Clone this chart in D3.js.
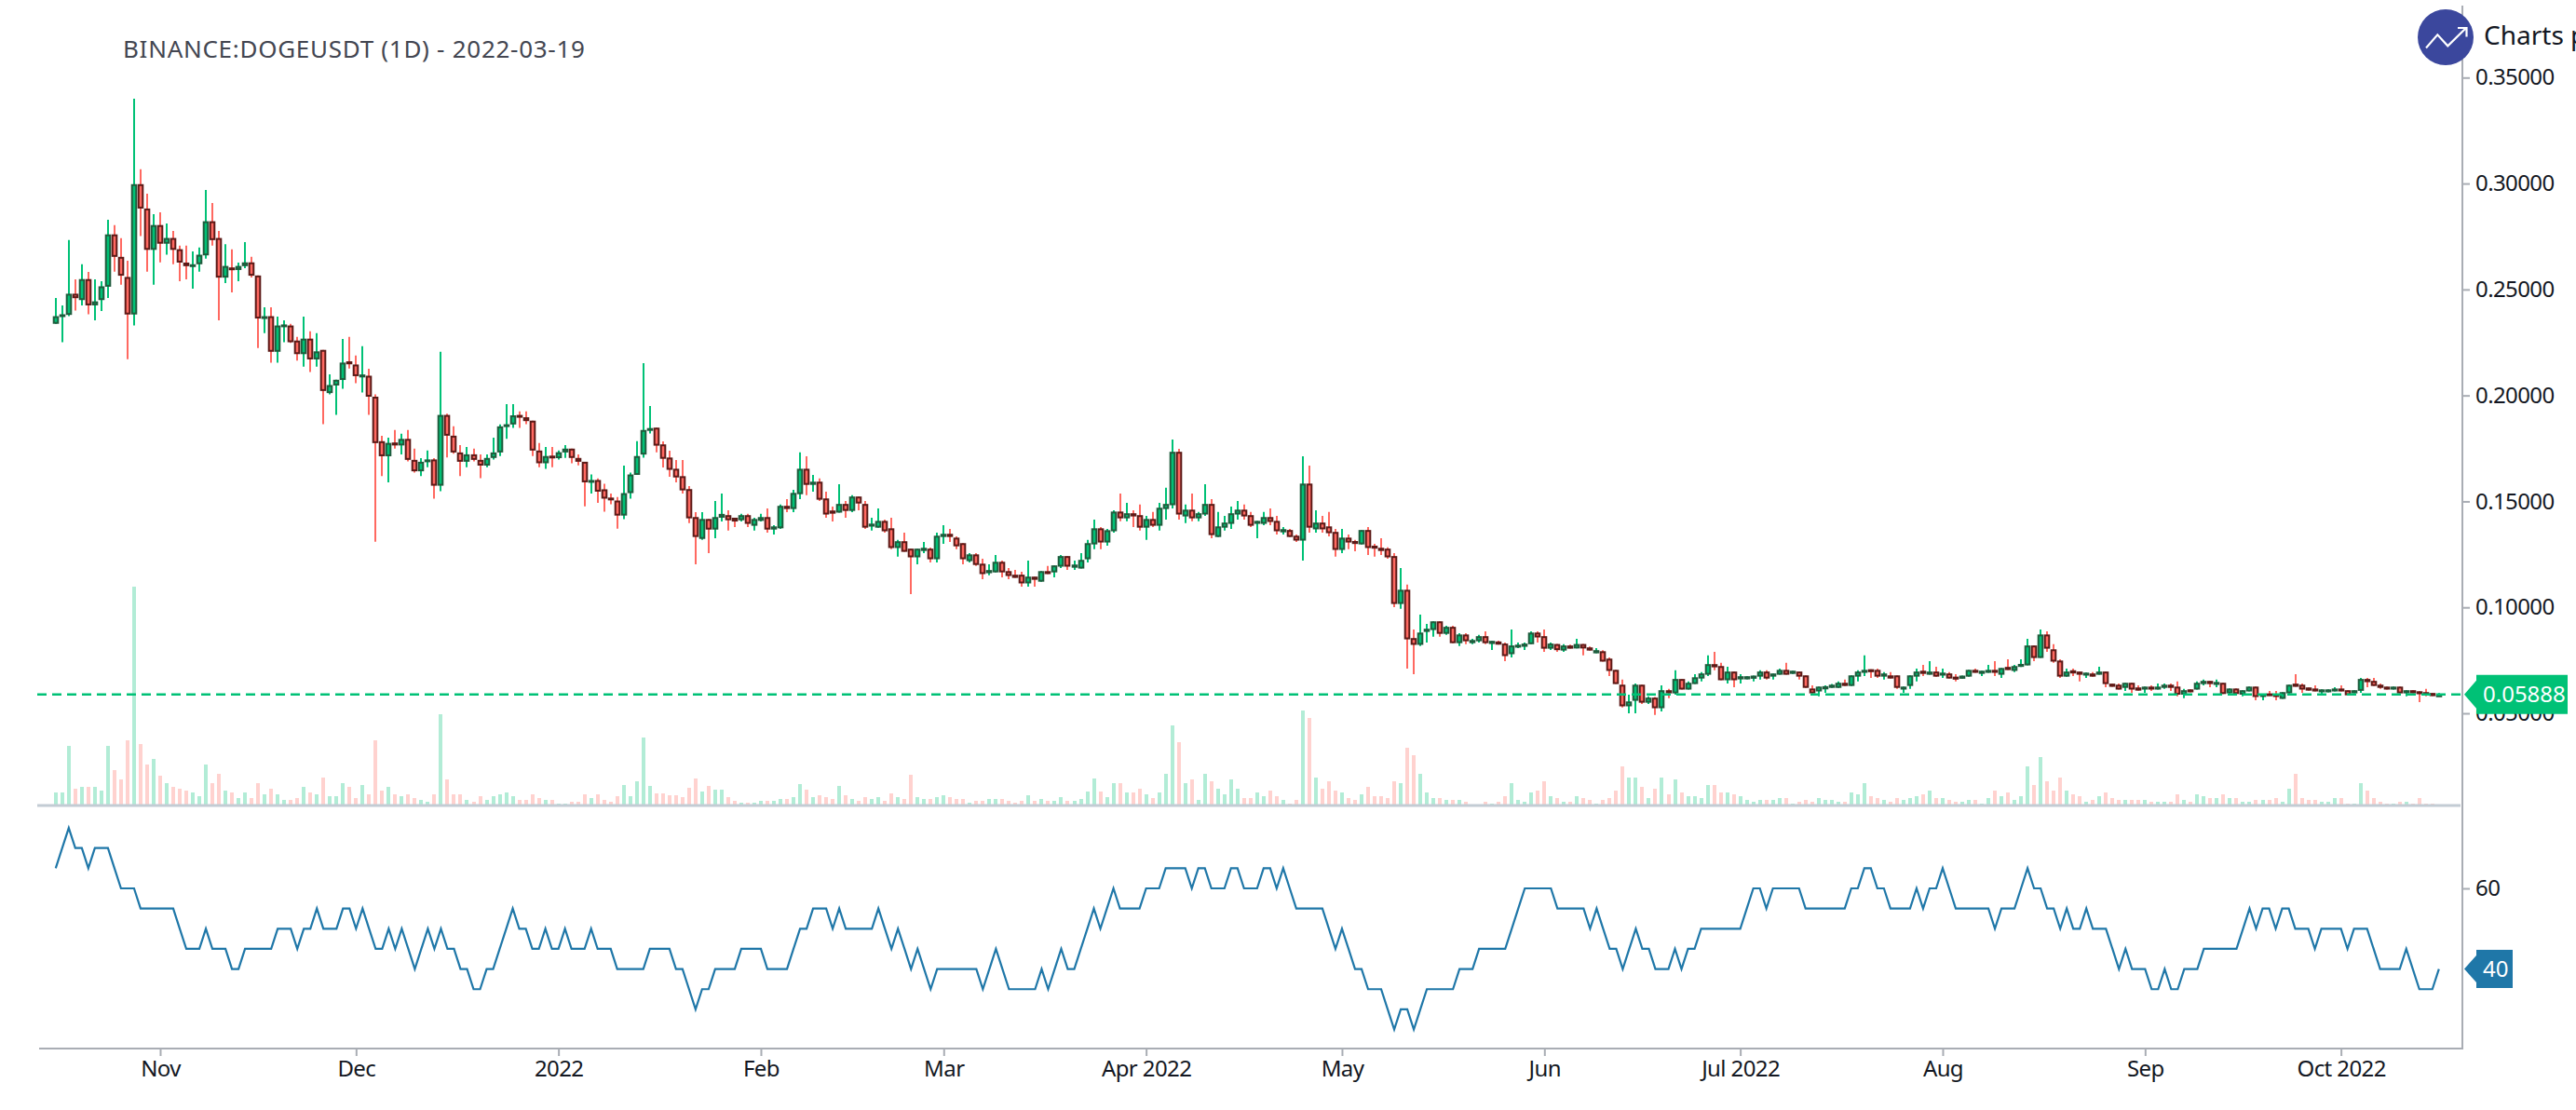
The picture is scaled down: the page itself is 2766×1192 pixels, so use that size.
<!DOCTYPE html>
<html><head><meta charset="utf-8">
<script src="https://cdn.jsdelivr.net/npm/d3@7"></script>
<style>
html,body{margin:0;padding:0;background:#fff;overflow:hidden}
svg{display:block}
text{font-family:"Noto Sans",sans-serif}
</style></head><body>
<svg id="c" width="2766" height="1192"></svg>
<script>
const TITLE="BINANCE:DOGEUSDT (1D) - 2022-03-19";
const BRAND="Charts pro";
const PRICE_UNIT=1e-4; // OHLC below are in 0.0001 USDT
const firstDay=new Date(2021,9,16);
const opens=[
2338,2371,2380,2480,2450,2549,2425,2450,2513,2760,
2654,2559,2382,2997,2882,2687,2804,2716,2743,2690,
2627,2610,2619,2661,2822,2743,2556,2604,2592,2610,
2628,2566,2362,2374,2206,2323,2330,2259,2195,2268,
2170,2215,2011,2047,2073,2161,2146,2085,2093,1994,
1784,1713,1778,1764,1795,1696,1642,1686,1698,1574,
1908,1810,1731,1687,1722,1696,1669,1705,1731,1852,
1863,1908,1897,1881,1740,1680,1716,1704,1731,1749,
1705,1687,1589,1601,1557,1518,1504,1433,1539,1625,
1721,1835,1848,1769,1707,1654,1619,1558,1426,1323,
1417,1367,1423,1435,1423,1411,1435,1385,1408,1426,
1367,1373,1479,1464,1534,1654,1578,1593,1514,1457,
1447,1488,1455,1523,1488,1381,1376,1408,1373,1280,
1312,1277,1236,1266,1277,1227,1332,1347,1329,1303,
1218,1250,1206,1161,1165,1215,1171,1154,1154,1113,
1145,1121,1171,1165,1192,1242,1187,1183,1227,1297,
1373,1306,1359,1452,1420,1444,1435,1376,1417,1385,
1464,1482,1734,1429,1461,1420,1438,1488,1332,1376,
1394,1438,1461,1435,1394,1394,1426,1408,1354,1365,
1338,1315,1584,1368,1400,1382,1356,1271,1329,1313,
1297,1365,1291,1281,1277,1242,1016,1083,855,823,
884,893,934,875,908,831,872,831,840,864,
827,839,829,779,810,814,826,881,864,805,
827,796,820,806,827,811,783,793,758,705,
635,533,559,635,550,574,524,609,594,662,
612,638,664,682,732,723,656,697,660,660,
663,673,697,673,682,705,686,697,679,617,
603,613,620,620,644,629,673,691,708,705,
673,679,679,612,629,673,701,682,697,678,
688,673,663,673,705,686,691,705,682,719,
700,719,726,820,761,872,802,749,673,703,
697,678,688,682,697,640,635,620,644,622,
612,626,612,620,635,626,588,613,612,638,
653,634,644,594,617,588,603,626,577,594,
591,568,594,640,635,622,617,599,599,603,
617,609,594,606,662,653,635,626,612,626,
594,609,604,600,596,581];
const closes=[
2374,2383,2480,2459,2549,2425,2444,2515,2760,2654,
2565,2382,2997,2882,2687,2804,2716,2743,2687,2627,
2610,2619,2664,2822,2733,2556,2611,2592,2611,2628,
2565,2363,2374,2206,2330,2335,2251,2195,2268,2170,
2208,2021,2049,2074,2155,2147,2091,2099,1994,1775,
1713,1776,1764,1795,1696,1642,1687,1698,1574,1908,
1810,1731,1687,1722,1696,1669,1705,1731,1854,1864,
1906,1896,1879,1740,1680,1714,1704,1732,1749,1705,
1687,1590,1601,1546,1513,1506,1433,1539,1627,1714,
1837,1846,1763,1701,1649,1613,1552,1420,1332,1417,
1367,1426,1441,1411,1405,1435,1394,1417,1426,1367,
1382,1479,1464,1540,1654,1578,1593,1508,1438,1442,
1488,1455,1523,1490,1376,1395,1408,1359,1280,1312,
1262,1236,1277,1281,1227,1338,1347,1332,1288,1227,
1250,1200,1157,1176,1215,1165,1148,1139,1113,1145,
1130,1171,1157,1198,1242,1192,1202,1224,1303,1373,
1306,1364,1452,1420,1444,1429,1376,1417,1385,1470,
1488,1734,1438,1461,1420,1444,1488,1341,1382,1400,
1444,1461,1429,1385,1408,1426,1403,1359,1369,1332,
1315,1584,1376,1400,1368,1350,1271,1329,1306,1299,
1365,1280,1277,1266,1236,1016,1083,849,823,881,
899,934,875,908,831,872,840,846,864,831,
842,824,770,820,824,829,881,858,805,829,
798,820,805,827,806,796,798,744,700,638,
533,556,635,550,574,524,609,594,662,612,
644,670,688,732,717,656,697,656,675,675,
678,697,664,688,705,682,701,673,620,594,
626,628,635,644,629,679,697,705,694,673,
688,664,620,626,679,697,686,697,673,692,
664,659,678,705,691,701,705,691,714,704,
723,733,820,761,872,805,744,673,697,688,
682,692,673,697,638,625,612,644,612,607,
626,612,626,635,620,588,609,599,644,653,
638,648,591,617,591,609,626,577,591,582,
577,600,635,625,612,607,603,613,613,617,
603,585,609,662,647,629,620,612,626,594,
609,594,590,585,581,589];
const highs=[
2460,2425,2733,2548,2619,2583,2548,2539,2829,2804,
2742,2636,3400,3067,2952,2855,2864,2811,2776,2707,
2707,2680,2698,2970,2908,2776,2714,2689,2627,2723,
2654,2566,2416,2416,2372,2354,2338,2276,2372,2303,
2294,2215,2100,2074,2267,2276,2188,2232,2126,2005,
1810,1801,1837,1819,1837,1749,1704,1740,1704,2206,
1914,1854,1766,1757,1749,1722,1722,1801,1863,1959,
1959,1925,1925,1881,1775,1757,1757,1740,1766,1749,
1722,1687,1627,1608,1583,1537,1521,1669,1636,1784,
2152,1950,1848,1783,1739,1695,1695,1572,1449,1449,
1417,1502,1537,1458,1423,1441,1441,1423,1441,1467,
1388,1485,1511,1555,1731,1713,1625,1608,1546,1476,
1581,1502,1529,1523,1502,1423,1467,1414,1423,1318,
1353,1277,1277,1309,1282,1353,1388,1370,1335,1303,
1256,1256,1230,1203,1247,1221,1186,1177,1168,1221,
1145,1171,1195,1198,1247,1242,1221,1256,1318,1414,
1379,1370,1458,1537,1493,1458,1485,1432,1450,1493,
1564,1792,1748,1485,1537,1450,1581,1511,1450,1432,
1476,1502,1485,1450,1408,1450,1467,1432,1379,1370,
1344,1713,1669,1458,1432,1450,1370,1370,1344,1318,
1365,1379,1300,1326,1283,1256,1186,1107,896,966,
922,934,934,913,913,878,878,852,870,887,
842,843,834,896,834,834,887,887,896,834,
827,826,824,852,827,815,808,798,764,705,
659,588,641,635,580,577,632,615,703,662,
650,685,694,773,790,738,720,697,685,675,
678,703,703,688,711,738,701,697,679,632,
626,632,638,650,659,679,703,773,708,711,
694,694,679,626,679,711,729,746,720,711,
694,685,678,705,711,701,729,746,714,755,
729,755,852,820,896,887,826,755,711,711,
697,692,694,720,697,640,641,644,644,632,
626,632,641,641,641,650,615,613,650,659,
653,659,644,617,617,609,626,626,591,606,
606,600,635,685,641,622,632,613,613,623,
632,609,609,667,667,667,641,626,626,626,
609,609,604,615,596,596];
const lows=[
2338,2251,2374,2400,2425,2383,2354,2398,2460,2584,
2522,2171,2330,2752,2584,2522,2628,2664,2619,2539,
2548,2504,2584,2646,2707,2354,2530,2486,2539,2601,
2557,2224,2294,2155,2155,2251,2248,2164,2136,2111,
2136,1864,2005,1908,2031,2127,2058,2014,1908,1310,
1619,1590,1749,1722,1689,1636,1619,1661,1513,1548,
1707,1725,1619,1661,1689,1610,1661,1698,1714,1795,
1847,1847,1864,1714,1661,1654,1661,1698,1705,1680,
1670,1477,1537,1493,1451,1486,1371,1416,1513,1625,
1706,1820,1731,1660,1616,1590,1537,1397,1203,1318,
1256,1326,1405,1362,1379,1405,1379,1362,1405,1353,
1344,1370,1449,1449,1511,1529,1546,1502,1423,1405,
1447,1423,1449,1458,1370,1362,1376,1353,1274,1239,
1262,1063,1203,1256,1212,1212,1300,1309,1274,1203,
1212,1195,1133,1151,1165,1142,1133,1139,1098,1098,
1098,1121,1157,1142,1186,1177,1177,1183,1212,1274,
1274,1291,1353,1406,1406,1379,1362,1318,1379,1362,
1414,1467,1414,1397,1406,1406,1432,1326,1332,1362,
1370,1414,1414,1379,1326,1388,1388,1344,1344,1332,
1309,1221,1353,1353,1353,1335,1239,1256,1274,1265,
1297,1247,1239,1247,1230,1001,993,711,685,817,
834,861,861,870,831,817,826,826,834,826,
799,824,746,764,808,799,826,834,790,799,
790,790,805,806,773,796,783,744,676,638,
527,500,500,544,544,492,509,571,588,612,
612,638,650,676,703,656,641,623,641,660,
650,659,659,659,682,682,686,659,620,588,
580,597,620,620,629,629,650,676,667,667,
659,664,615,597,615,650,676,682,673,667,
664,650,663,673,691,676,691,676,667,704,
694,719,726,746,761,790,738,667,673,676,
650,667,673,682,623,625,612,606,597,607,
597,606,612,615,606,580,571,599,612,632,
623,623,591,591,588,580,603,562,562,582,
562,568,591,625,597,607,603,588,599,603,
603,585,594,597,623,629,615,612,612,594,
580,594,553,580,581,581];
const volumes=[
14,14,64,18,20,20,20,16,64,38,
28,70,235,66,44,50,32,24,20,18,
16,14,10,44,24,34,16,14,8,14,
8,24,12,18,12,6,6,8,20,14,
12,30,10,10,24,20,8,22,12,70,
16,20,12,10,12,8,6,4,12,98,
28,12,12,6,4,10,6,10,12,14,
10,6,6,12,8,6,6,2,2,4,
4,12,8,12,6,4,10,22,10,26,
73,21,13,13,11,11,9,19,29,15,
21,17,17,9,5,3,3,3,5,5,
5,7,7,9,23,17,9,11,9,7,
21,11,7,5,9,7,9,5,13,9,
7,33,9,7,7,9,11,9,7,7,
3,5,5,7,7,7,5,3,5,11,
5,7,5,5,9,5,5,7,15,29,
15,9,24,24,14,14,18,12,8,14,
34,86,68,24,28,6,34,26,18,12,
28,18,8,8,14,10,16,10,6,2,
6,102,94,30,18,26,16,14,8,6,
12,20,10,10,8,26,24,62,54,34,
14,8,8,6,6,6,4,1,1,4,
2,4,10,24,6,4,14,16,26,10,
8,4,4,10,8,6,2,6,8,16,
42,30,30,20,8,18,30,12,28,14,
10,10,8,22,22,14,14,12,10,6,
4,6,6,6,8,8,2,4,6,4,
8,6,6,4,4,14,12,24,10,8,
6,4,8,6,8,10,12,16,8,8,
6,4,4,6,6,2,8,16,10,14,
6,10,42,22,52,26,16,30,16,12,
10,4,6,10,14,8,6,6,6,6,
6,4,4,4,4,12,6,4,12,10,
8,8,12,8,8,4,4,6,6,6,
8,4,18,34,8,6,6,4,4,8,
8,2,2,24,16,8,4,2,2,4,
4,2,8,2,2,1];
const rsi=[
65,70,75,70,70,65,70,70,70,65,
60,60,60,55,55,55,55,55,55,50,
45,45,45,50,45,45,45,40,40,45,
45,45,45,45,50,50,50,45,50,50,
55,50,50,50,55,55,50,55,50,45,
45,50,45,50,45,40,45,50,45,50,
45,45,40,40,35,35,40,40,45,50,
55,50,50,45,45,50,45,45,50,45,
45,45,50,45,45,45,40,40,40,40,
40,45,45,45,45,40,40,35,30,35,
35,40,40,40,40,45,45,45,45,40,
40,40,40,45,50,50,55,55,55,50,
55,50,50,50,50,50,55,50,45,50,
45,40,45,40,35,40,40,40,40,40,
40,40,35,40,45,40,35,35,35,35,
35,40,35,40,45,40,40,45,50,55,
50,55,60,55,55,55,55,60,60,60,
65,65,65,65,60,65,65,60,60,60,
65,65,60,60,60,65,65,60,65,60,
55,55,55,55,55,50,45,50,45,40,
40,35,35,35,30,25,30,30,25,30,
35,35,35,35,35,40,40,40,45,45,
45,45,45,50,55,60,60,60,60,60,
55,55,55,55,55,50,55,50,45,45,
40,45,50,45,45,40,40,40,45,40,
45,45,50,50,50,50,50,50,50,55,
60,60,55,60,60,60,60,60,55,55,
55,55,55,55,55,60,60,65,65,60,
60,55,55,55,55,60,55,60,60,65,
60,55,55,55,55,55,55,50,55,55,
55,60,65,60,60,55,55,50,55,50,
50,55,50,50,50,45,40,45,40,40,
40,35,35,40,35,35,40,40,40,45,
45,45,45,45,45,50,55,50,55,55,
50,55,55,50,50,50,45,50,50,50,
50,45,50,50,50,45,40,40,40,40,
45,40,35,35,35,40];
const priceTicks=[0.05,0.10,0.15,0.20,0.25,0.30,0.35];
const rsiTicks=[60];
const lastPrice=0.05888, lastRsi=40;
const timeTicks=[[2021,10,"Nov"],[2021,11,"Dec"],[2022,0,"2022"],[2022,1,"Feb"],[2022,2,"Mar"],[2022,3,"Apr 2022"],[2022,4,"May"],[2022,5,"Jun"],[2022,6,"Jul 2022"],[2022,7,"Aug"],[2022,8,"Sep"],[2022,9,"Oct 2022"]];

const UP="#00c176",DOWN="#ff6961",UPB="#1f5c3d",DOWNB="#5c1a17",AX="#a9adb4",INK="#131722",RSIC="#1f77a8";
const RIGHT=2644,BOTTOM=1126,VOLBASE=865;
const dates=opens.map((_,i)=>d3.timeDay.offset(firstDay,i));
const x=d3.scaleTime().domain([firstDay,dates[dates.length-1]]).range([59.8,2618.8]);
const y=d3.scaleLinear().domain([0.05,0.35]).range([766,83.3]);
const yVol=d3.scaleLinear().domain([0,235]).range([VOLBASE,630]);
const yRsi=d3.scaleLinear().domain([40,60]).range([1040.6,954]);
const svg=d3.select("#c");
const data=dates.map((d,i)=>({d,o:opens[i]*PRICE_UNIT,c:closes[i]*PRICE_UNIT,h:highs[i]*PRICE_UNIT,l:lows[i]*PRICE_UNIT,v:volumes[i]}));

// volume
svg.append("g").selectAll("rect").data(data).join("rect")
 .attr("x",d=>Math.round(x(d.d))-2).attr("width",4)
 .attr("y",d=>yVol(d.v)).attr("height",d=>VOLBASE-yVol(d.v))
 .attr("fill",d=>d.c>=d.o?UP:DOWN).attr("fill-opacity",.3);
svg.append("line").attr("x1",40).attr("x2",RIGHT-2).attr("y1",VOLBASE).attr("y2",VOLBASE)
 .attr("stroke","#c3ccd4").attr("stroke-width",3);

// candles
const g=svg.append("g");
g.selectAll("line").data(data).join("line")
 .attr("x1",d=>Math.round(x(d.d))).attr("x2",d=>Math.round(x(d.d)))
 .attr("y1",d=>y(d.h)).attr("y2",d=>y(d.l))
 .attr("stroke",d=>d.c>=d.o?UP:DOWN).attr("stroke-width",2);
g.selectAll("rect").data(data).join("rect")
 .attr("x",d=>Math.round(x(d.d))-2.3).attr("width",4.6)
 .attr("y",d=>y(Math.max(d.o,d.c))+1)
 .attr("height",d=>Math.max(y(Math.min(d.o,d.c))-y(Math.max(d.o,d.c))-2,1))
 .attr("fill",d=>d.c>=d.o?UP:DOWN)
 .attr("stroke",d=>d.c>=d.o?UPB:DOWNB).attr("stroke-width",2);

// last price line
svg.append("line").attr("x1",40).attr("x2",RIGHT).attr("y1",y(lastPrice)).attr("y2",y(lastPrice))
 .attr("stroke",UP).attr("stroke-width",2.5).attr("stroke-dasharray","10 6");

// rsi
svg.append("path").datum(rsi).attr("fill","none").attr("stroke",RSIC).attr("stroke-width",2.2)
 .attr("stroke-linejoin","miter")
 .attr("d",d3.line().x((v,i)=>x(dates[i])).y(v=>yRsi(v)));

// axes
function styleAxis(sel){
 sel.select(".domain").remove();
 sel.selectAll(".tick line").attr("stroke",AX).attr("stroke-width",2);
 sel.selectAll("text").attr("fill",INK).style("font-size","24px").style("letter-spacing","-0.6px");
}
svg.append("g").attr("transform",`translate(${RIGHT},0)`)
 .call(d3.axisRight(y).tickValues(priceTicks).tickSize(8).tickPadding(6).tickFormat(d3.format(".5f"))).call(styleAxis);
svg.append("g").attr("transform",`translate(${RIGHT},0)`)
 .call(d3.axisRight(yRsi).tickValues(rsiTicks).tickSize(8).tickPadding(6).tickFormat(d3.format("d"))).call(styleAxis);
svg.append("g").attr("transform",`translate(0,${BOTTOM})`)
 .call(d3.axisBottom(x).tickValues(timeTicks.map(t=>new Date(t[0],t[1],1))).tickSize(8).tickPadding(5)
   .tickFormat((d,i)=>timeTicks[i][2])).call(styleAxis);
svg.append("line").attr("x1",RIGHT).attr("x2",RIGHT).attr("y1",6).attr("y2",BOTTOM+1).attr("stroke",AX).attr("stroke-width",2);
svg.append("line").attr("x1",42).attr("x2",RIGHT).attr("y1",BOTTOM).attr("y2",BOTTOM).attr("stroke",AX).attr("stroke-width",2);

// value badges
function badge(yv,w,h,fill,label){
 const gg=svg.append("g").attr("transform",`translate(2646,${yv})`);
 gg.append("path").attr("d",`M0,0L13,-${h/2-6}V-${h/2}H${w}V${h/2}H13V${h/2-6}Z`).attr("fill",fill);
 gg.append("text").attr("x",20).attr("y",0).attr("dy",".35em").attr("fill","#fff")
  .style("font-size","24px").text(label);
}
badge(y(lastPrice),111,42,UP,d3.format(".5f")(lastPrice));
badge(yRsi(lastRsi),52,41,RSIC,String(lastRsi));

// title + brand
svg.append("text").attr("x",132).attr("y",62).attr("fill","#434651").style("font-size","26px").style("letter-spacing","0.72px").text(TITLE);
svg.append("circle").attr("cx",2626).attr("cy",40).attr("r",30).attr("fill","#3b479d");
svg.append("path").attr("d","M2605,51.5L2617.3,37.3L2628.3,49.3L2648,30M2639,30H2648.5V39.5").attr("fill","none").attr("stroke","#fff").attr("stroke-width",2.2);
svg.append("text").attr("x",2667).attr("y",48).attr("fill",INK).style("font-size","28px").text(BRAND);
</script></body></html>
